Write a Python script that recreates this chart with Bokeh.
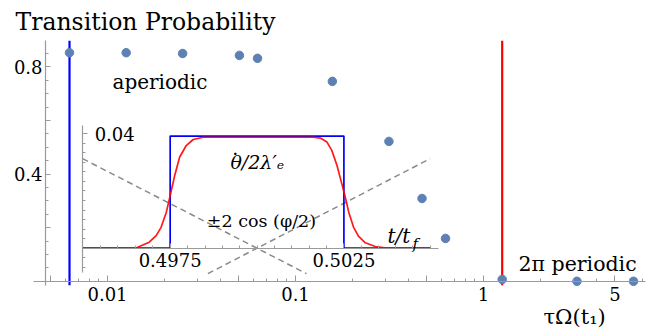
import json
from bokeh.plotting import figure
from bokeh.models import (Range1d, LinearAxis, FixedTicker, CustomJSTickFormatter, Label)
from bokeh.embed import file_html
from bokeh.resources import INLINE

# ---------------- data ----------------
tau_omega = [0.00628, 0.01257, 0.0251, 0.0503, 0.0628, 0.157, 0.314, 0.471, 0.628, 1.257, 3.14, 6.28]
prob = [0.853, 0.853, 0.850, 0.843, 0.832, 0.746, 0.522, 0.309, 0.160, 0.007, 0.0, 0.0]

aperiodic_x = [0.00628, 0.00628]
periodic_x = [1.257, 1.257]
marker_y = [-0.015, 0.898]

# inset: pulse of dtheta/2lambda'_e versus t/t_f
step_t = [0.495, 0.4975, 0.4975, 0.5025, 0.5025, 0.505]
step_v = [0.0, 0.0, 0.0392, 0.0392, 0.0, 0.0]

smooth_t = [0.495, 0.49651, 0.49662, 0.49690, 0.49710, 0.49724, 0.49739, 0.49750, 0.49763,
            0.49777, 0.49796, 0.49816, 0.49845, 0.50162, 0.50182, 0.50201, 0.50215, 0.50230,
            0.50244, 0.50254, 0.50264, 0.50278, 0.50292, 0.50312, 0.50341, 0.50374, 0.505]
smooth_v = [0.0, 0.0, 0.0006, 0.0021, 0.0044, 0.0073, 0.0126, 0.0184, 0.0254,
            0.0318, 0.0359, 0.0380, 0.0388, 0.0388, 0.0385, 0.0371, 0.0342, 0.0289,
            0.0225, 0.0178, 0.0126, 0.0073, 0.0042, 0.0019, 0.0006, 0.0, 0.0]

cos_a_t = [0.495, 0.50142]
cos_a_v = [0.0313, -0.0089]
cos_b_t = [0.49858, 0.505]
cos_b_v = [-0.0089, 0.0313]

# ticks
x_major_ticks = [0.005, 0.01, 0.05, 0.1, 0.5, 1, 5]
x_minor_ticks = [0.006, 0.007, 0.008, 0.009, 0.02, 0.03, 0.04, 0.06, 0.07, 0.08, 0.09,
                 0.2, 0.3, 0.4, 0.6, 0.7, 0.8, 0.9, 2, 3, 4, 6, 7]
x_tick_labels = {"0.01": "0.01", "0.1": "0.1", "1": "1", "5": "5"}

y_major_ticks = [0.2, 0.4, 0.6, 0.8]
y_minor_ticks = [0.05, 0.1, 0.15, 0.25, 0.3, 0.35, 0.45, 0.5, 0.55, 0.65, 0.7, 0.75, 0.85]
y_tick_labels = {"0.4": "0.4", "0.8": "0.8"}

inset_x_major = [0.4975, 0.5025]
inset_x_minor = [0.4955, 0.496, 0.4965, 0.497, 0.498, 0.4985, 0.499, 0.4995, 0.5, 0.5005,
                 0.501, 0.5015, 0.502, 0.503, 0.5035, 0.504, 0.5045, 0.505]
inset_x_labels = {"0.4975": "0.4975", "0.5025": "0.5025"}
inset_y_major = [0.04]
inset_y_minor = [-0.00667, -0.00333, 0.00333, 0.00667, 0.01, 0.01333, 0.01667, 0.02,
                 0.02333, 0.02667, 0.03, 0.03333, 0.03667]
inset_y_labels = {"0.04": "0.04"}

FONT = "DejaVu Serif"
AX = "#9a9a9a"
DOT = "#5E81B5"


def fmt(labels):
    return CustomJSTickFormatter(
        code="const L = %s; const s = String(tick); return (s in L) ? L[s] : '';" % json.dumps(labels))


# frame covers the whole figure; axes sit at fixed data locations inside it
p = figure(width=658, height=334, x_axis_type="log",
           x_range=Range1d(0.002697, 8.5266), y_range=Range1d(-0.19851, 1.04776),
           output_backend="svg", toolbar_location=None,
           min_border_left=0, min_border_right=0, min_border_top=0, min_border_bottom=0)
p.extra_x_ranges = {"ix": Range1d(0.492665, 0.511682)}
p.extra_y_ranges = {"iy": Range1d(-0.030175, 0.086608)}
p.grid.visible = False
p.outline_line_color = None
p.background_fill_color = "white"


def style_axis(a, tick_in, tick_out, minor_in, minor_out, standoff):
    a.axis_line_color = AX
    a.axis_line_width = 1.2
    a.major_tick_line_color = AX
    a.minor_tick_line_color = AX
    a.major_tick_in = tick_in
    a.major_tick_out = tick_out
    a.minor_tick_in = minor_in
    a.minor_tick_out = minor_out
    a.major_label_standoff = standoff
    a.major_label_text_font = FONT
    a.major_label_text_font_size = "18px"
    a.major_label_text_color = "black"


xa = p.xaxis[0]
xa.fixed_location = 0
xa.bounds = (0.004042, 7.273)
xa.ticker = FixedTicker(ticks=x_major_ticks, minor_ticks=x_minor_ticks)
xa.formatter = fmt(x_tick_labels)
style_axis(xa, 6, 0, 3, 0, 6)

ya = p.yaxis[0]
ya.fixed_location = 0.004681
ya.bounds = (-0.015, 0.898)
ya.ticker = FixedTicker(ticks=y_major_ticks, minor_ticks=y_minor_ticks)
ya.formatter = fmt(y_tick_labels)
style_axis(ya, 5, 0, 3, 0, 3)

iya = LinearAxis(x_range_name="ix", y_range_name="iy", fixed_location=0.495,
                 bounds=(-0.0085, 0.0429),
                 ticker=FixedTicker(ticks=inset_y_major, minor_ticks=inset_y_minor),
                 formatter=fmt(inset_y_labels))
style_axis(iya, 0, 5, 0, 3, 7)
p.add_layout(iya, "right")

ixa = LinearAxis(x_range_name="ix", y_range_name="iy", fixed_location=0,
                 bounds=(0.495, 0.50524),
                 ticker=FixedTicker(ticks=inset_x_major, minor_ticks=inset_x_minor),
                 formatter=fmt(inset_x_labels))
style_axis(ixa, 5, 0, 3, 0, 5)
p.add_layout(ixa, "below")

# inset curves
p.line(cos_a_t, cos_a_v, x_range_name="ix", y_range_name="iy",
       line_color="#8a8a8a", line_width=1.5, line_dash="6 4")
p.line(cos_b_t, cos_b_v, x_range_name="ix", y_range_name="iy",
       line_color="#8a8a8a", line_width=1.5, line_dash="6 4")
p.line(step_t, step_v, x_range_name="ix", y_range_name="iy",
       line_color="#0000ff", line_width=1.7)
p.line(smooth_t, smooth_v, x_range_name="ix", y_range_name="iy",
       line_color="#ff0000", line_width=1.7, line_alpha=0.9)

# main plot
p.line(aperiodic_x, marker_y, line_color="#0000ff", line_width=2.2)
p.line(periodic_x, marker_y, line_color="#ff0000", line_width=2.2)
p.scatter(tau_omega, prob, size=8.5, fill_color=DOT, line_color=DOT)


def lab(text, x, y, size, align="left", style="normal", xr="default", yr="default"):
    p.add_layout(Label(x=x, y=y, text=text, text_font=FONT, text_font_size=size,
                       text_align=align, text_baseline="alphabetic", text_color="black",
                       text_font_style=style, x_range_name=xr, y_range_name=yr))


lab("Transition Probability", 0.003243, 0.967, "23.5px")
lab("aperiodic", 0.01063, 0.742, "20px")
lab("2π periodic", 1.535, 0.0627, "20.5px")
lab("τΩ(t₁)", 2.085, -0.134, "21px")

lab("θ/2λ′ₑ", 0.5000, 0.0301, "19px", align="center", style="italic", xr="ix", yr="iy")
lab(".", 0.49937, 0.0351, "19px", align="center", xr="ix", yr="iy")
lab("±2 cos (φ/2)", 0.50012, 0.00934, "17.5px", align="center", xr="ix", yr="iy")
lab("t/t", 0.50376, 0.0042, "20px", style="italic", xr="ix", yr="iy")
lab("f", 0.50449, 0.0016, "15px", style="italic", xr="ix", yr="iy")

open("out.html", "w").write(file_html(p, INLINE))
